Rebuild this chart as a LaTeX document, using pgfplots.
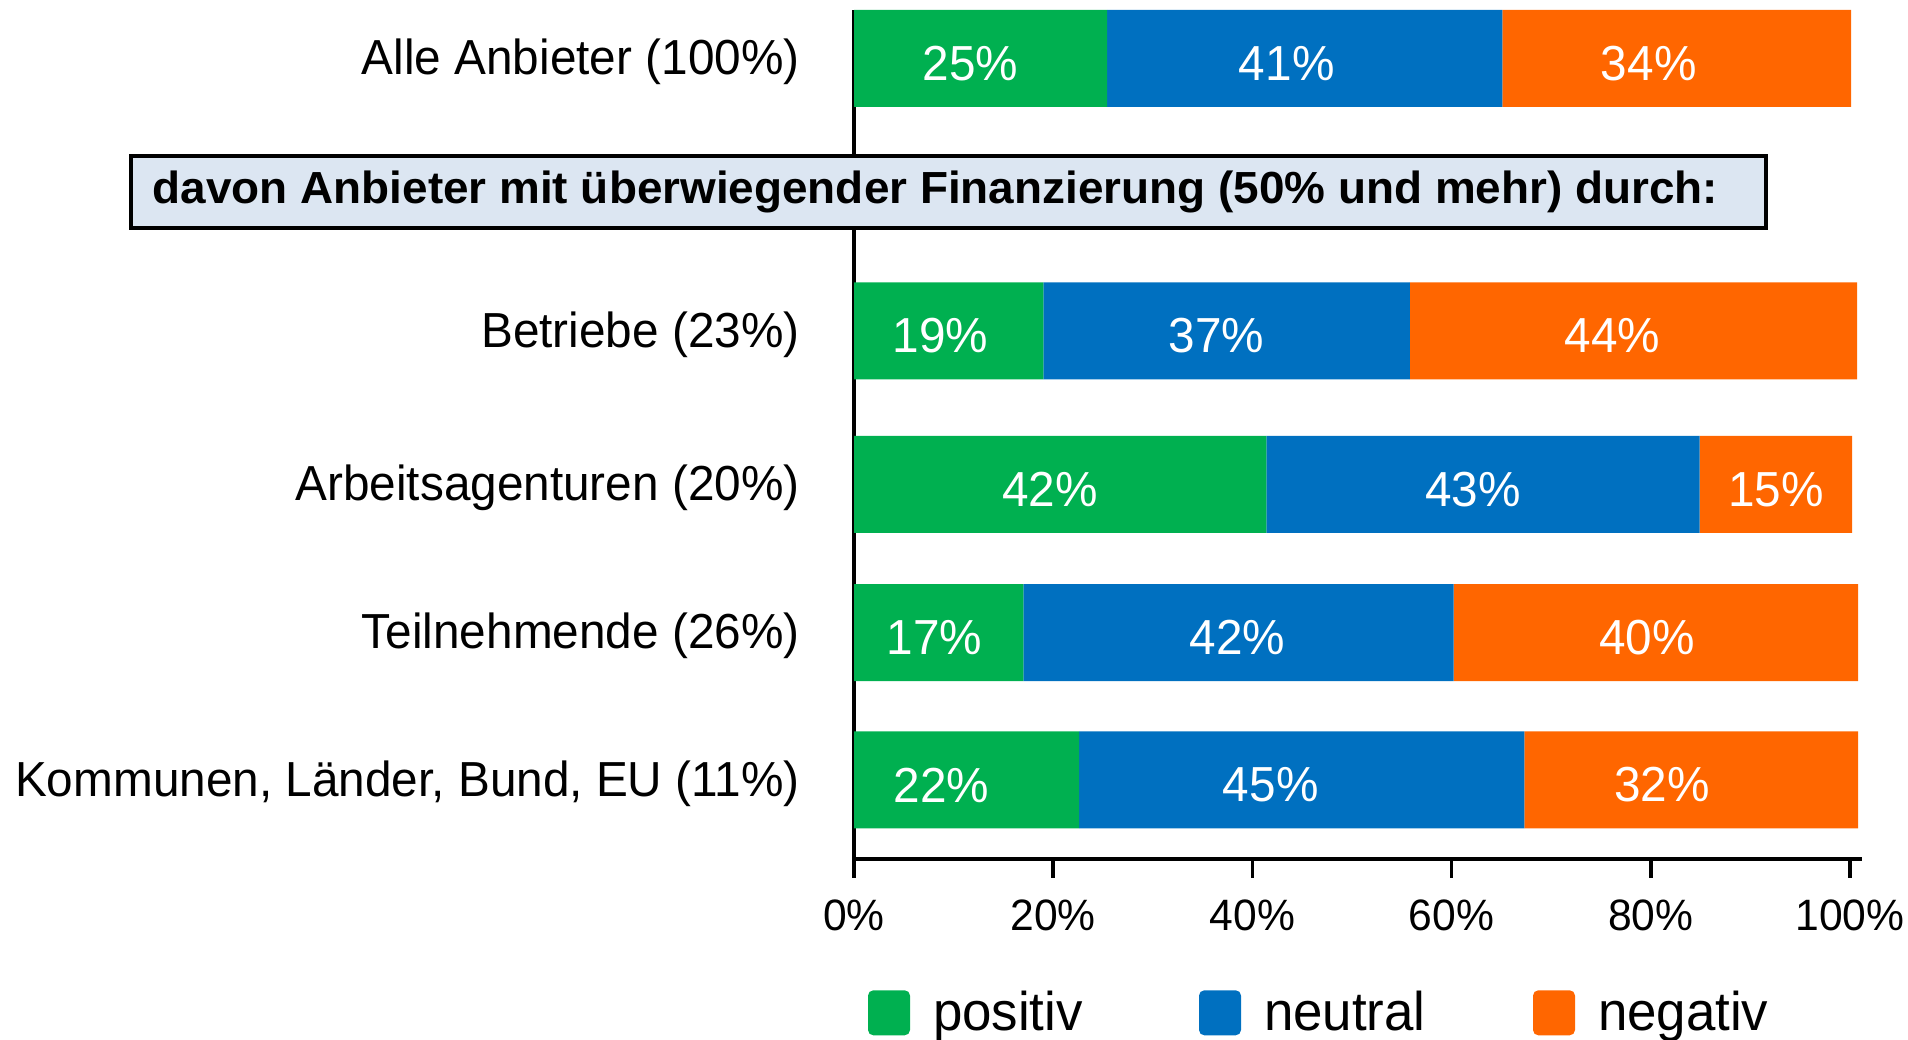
\documentclass[border=0pt]{standalone}
\usepackage{pgfplots}
\pgfplotsset{compat=1.18}
\usepackage{pgfplotstable}
\usepackage{fontspec}
\setmainfont{Liberation Sans}[FakeStretch=0.97]
\newfontfamily\headfont{Liberation Sans}[FakeStretch=1.02]
\definecolor{pos}{HTML}{00B050}
\definecolor{neu}{HTML}{0070C0}
\definecolor{neg}{HTML}{FF6600}
\definecolor{boxfill}{HTML}{DCE6F2}

% dx: horizontal offset of each value label from its segment centre (cm)
\pgfplotstableread{
y pos posl posdx neu neul neudx neg negl negdx
800.6 25.4 25 -0.10 39.7 41 -0.18 35.0 34 -0.28
528 19.0 19 -0.08 36.8 37 -0.10 44.9 44 -0.21
374.7 41.4 42 -0.10 43.5 43 -0.10 15.3 15 0.00
226.3 17.0 17 -0.04 43.2 42 -0.01 40.6 40 -0.09
79 22.6 22 -0.25 44.7 45 -0.31 33.5 32 -0.29
}\data

\begin{document}
\begin{tikzpicture}
\useasboundingbox (0,0) rectangle (19.08cm,10.40cm);
\begin{axis}[
  at={(8.54cm,1.81cm)}, anchor=south west,
  scale only axis, width=10.08cm, height=8.49cm,
  xmin=0, xmax=101.2, ymin=0, ymax=849,
  xbar stacked, bar width=0.97cm,
  axis x line*=bottom, axis y line*=left,
  axis line style={line width=1pt, -},
  xtick={0,20,40,60,80,100},
  xticklabels={0\%,20\%,40\%,60\%,80\%,100\%},
  xtick align=outside,
  major tick length=0.19cm,
  x tick style={line width=1pt, black},
  x tick label style={font=\fontsize{12.5}{14}\selectfont, yshift=-0.09cm},
  ytick={79,226.3,374.7,528,800.6},
  yticklabels={{Kommunen, Länder, Bund, EU (11\%)},{Teilnehmende (26\%)},{Arbeitsagenturen (20\%)},{Betriebe (23\%)},{Alle Anbieter (100\%)}},
  y tick style={draw=none},
  y tick label style={font=\fontsize{14}{17}\selectfont, xshift=-0.42cm, yshift=-0.035cm},
  clip=false,
  point meta=explicit,
  /pgf/number format/assume math mode=true,
  nodes near coords={\pgfmathprintnumber{\pgfplotspointmeta}\%},
  every node near coord/.append style={anchor=center, text=white,
     font=\fontsize{14}{17}\selectfont, xshift=\dx cm, yshift=-0.05cm},
  legend columns=3,
  legend image code/.code={\fill[#1, rounded corners=1.5pt] (0cm,-0.22cm) rectangle (0.42cm,0.23cm);},
  legend style={draw=none, fill=none, at={(axis description cs:0.0139,-0.1814)}, anchor=west,
     inner sep=0pt, outer sep=0pt, nodes={inner sep=0pt}, column sep=0pt,
     font=\fontsize{15.5}{18}\selectfont,
     /tikz/every odd column/.append style={column sep=0.23cm}},
]
\addplot[fill=pos, draw=none, visualization depends on={\thisrow{posdx} \as \dx}] table[x=pos, y=y, meta=posl] {\data};
\addplot[fill=neu, draw=none, visualization depends on={\thisrow{neudx} \as \dx}] table[x=neu, y=y, meta=neul] {\data};
\addplot[fill=neg, draw=none, visualization depends on={\thisrow{negdx} \as \dx}] table[x=neg, y=y, meta=negl] {\data};
\legend{\makebox[2.66cm][l]{positiv},\makebox[2.69cm][l]{neutral},negativ}
\coordinate (BL) at (axis cs:-72.59,631);
\coordinate (TR) at (axis cs:91.56,703);
\coordinate (TX) at (axis cs:-70.48,667);
\end{axis}
\draw[fill=boxfill, line width=1.2pt] (BL) rectangle (TR);
\node[anchor=west, inner sep=0pt, font=\headfont\bfseries\fontsize{12.8}{15}\selectfont] at (TX) {davon Anbieter mit überwiegender Finanzierung (50\% und mehr) durch:};
\end{tikzpicture}
\end{document}
